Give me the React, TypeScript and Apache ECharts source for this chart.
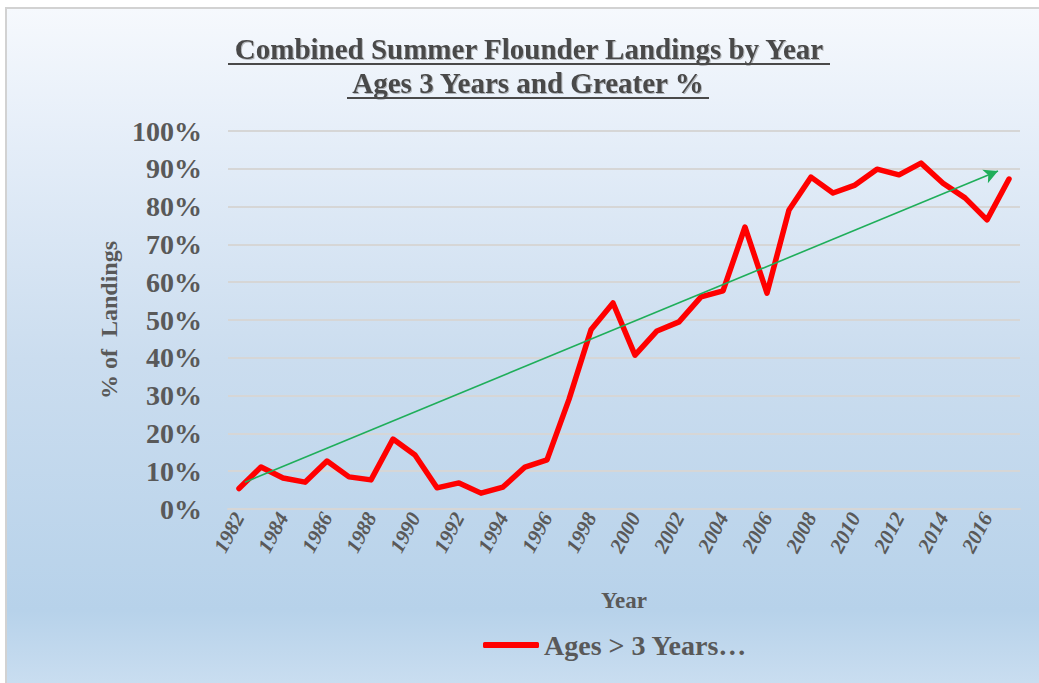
import React, { useEffect, useRef } from "react";
import * as echarts from "echarts";

const years: string[] = [
  "1982", "1983", "1984", "1985", "1986", "1987", "1988", "1989", "1990", "1991",
  "1992", "1993", "1994", "1995", "1996", "1997", "1998", "1999", "2000", "2001",
  "2002", "2003", "2004", "2005", "2006", "2007", "2008", "2009", "2010", "2011",
  "2012", "2013", "2014", "2015", "2016", "2017",
];
const agesPct: number[] = [
  5.4, 11.1, 8.2, 7.1, 12.7, 8.5, 7.7, 18.5, 14.3, 5.6,
  6.9, 4.2, 5.8, 11.1, 13.0, 29.0, 47.4, 54.5, 40.7, 47.1,
  49.5, 56.1, 57.7, 74.6, 57.1, 79.1, 87.8, 83.6, 85.7, 89.9,
  88.4, 91.5, 86.2, 82.3, 76.5, 87.3,
];
// trend arrow end points: [category position, percent]
const trendStart: number[] = [0.27, 7.1];
const trendEnd: number[] = [34.5, 89.4];

const seriesName = "Ages > 3 Years\u2026";
const titleLines: string[] = [
  "Combined Summer Flounder Landings by Year",
  "Ages 3 Years and Greater %",
];

const FONT = "'Liberation Serif', 'Times New Roman', serif";
const TXT = "#595959";

export default function App() {
  const ref = useRef<HTMLDivElement>(null);
  useEffect(() => {
    if (!ref.current) return;
    const chart = echarts.init(ref.current, undefined, { renderer: "svg" });
    chart.setOption({
      animation: false,
      backgroundColor: "#ffffff",
      graphic: [
        {
          type: "rect",
          z: -10,
          silent: true,
          shape: { x: 6, y: 8, width: 1050, height: 700 },
          style: {
            fill: new echarts.graphic.LinearGradient(0, 0, 0, 1, [
              { offset: 0, color: "#f6f9fd" },
              { offset: 0.2, color: "#e4edf8" },
              { offset: 0.5, color: "#cbddef" },
              { offset: 0.86, color: "#b7d2ea" },
              { offset: 1, color: "#cfe1f2" },
            ]),
            stroke: "#d2d2d2",
            lineWidth: 2,
          },
        },
        {
          type: "text",
          x: 529,
          y: 49,
          style: {
            text: titleLines[0],
            font: `bold 29px ${FONT}`,
            fill: "#4a4a4a",
            align: "center",
            verticalAlign: "middle",
            textShadowColor: "rgba(0,0,0,0.25)",
            textShadowOffsetX: 1,
            textShadowOffsetY: 1,
            textShadowBlur: 1,
          },
        },
        {
          type: "line",
          shape: { x1: 228, y1: 64, x2: 830, y2: 64 },
          style: { stroke: "#4a4a4a", lineWidth: 2 },
        },
        {
          type: "text",
          x: 528,
          y: 83,
          style: {
            text: titleLines[1],
            font: `bold 29px ${FONT}`,
            fill: "#4a4a4a",
            align: "center",
            verticalAlign: "middle",
            textShadowColor: "rgba(0,0,0,0.25)",
            textShadowOffsetX: 1,
            textShadowOffsetY: 1,
            textShadowBlur: 1,
          },
        },
        {
          type: "line",
          shape: { x1: 347, y1: 98, x2: 709, y2: 98 },
          style: { stroke: "#4a4a4a", lineWidth: 2 },
        },
      ],
      grid: { left: 228, right: 19, top: 131, bottom: 174, containLabel: false },
      legend: {
        show: true,
        data: [{ name: seriesName, icon: "roundRect" }],
        left: 478,
        top: 626,
        itemWidth: 56,
        itemHeight: 6,
        itemGap: 10,
        itemStyle: { color: "#ff0000", borderWidth: 0 },
        textStyle: { fontFamily: FONT, fontWeight: "bold", fontSize: 28, color: TXT },
      },
      xAxis: [
        {
          type: "category",
          data: years,
          boundaryGap: true,
          name: "Year",
          nameLocation: "middle",
          nameGap: 80,
          nameTextStyle: { fontFamily: FONT, fontWeight: "bold", fontSize: 23, color: TXT },
          axisLine: { show: true, lineStyle: { color: "#d6d6d6", width: 2 } },
          axisTick: { show: false },
          axisLabel: {
            interval: 1,
            rotate: 62,
            margin: 5,
            fontFamily: FONT,
            fontWeight: "bold",
            fontStyle: "italic",
            fontSize: 21,
            color: TXT,
          },
        },
        {
          type: "value",
          show: false,
          min: -0.5,
          max: 35.5,
        },
      ],
      yAxis: {
        type: "value",
        min: 0,
        max: 100,
        interval: 10,
        name: "% of  Landings",
        nameLocation: "middle",
        nameGap: 104,
        nameRotate: 90,
        nameTextStyle: { fontFamily: FONT, fontWeight: "bold", fontSize: 24, color: TXT },
        axisLine: { show: false },
        axisTick: { show: false },
        axisLabel: {
          formatter: "{value}%",
          margin: 26,
          fontFamily: FONT,
          fontWeight: "bold",
          fontSize: 28,
          color: TXT,
        },
        splitLine: { lineStyle: { color: "#d6d6d6", width: 2 } },
      },
      series: [
        {
          name: seriesName,
          type: "line",
          data: agesPct,
          xAxisIndex: 0,
          symbol: "none",
          lineStyle: { color: "#ff0000", width: 5.5, join: "round", cap: "round" },
          itemStyle: { color: "#ff0000" },
          z: 3,
        },
        {
          name: "trend",
          type: "line",
          xAxisIndex: 1,
          data: [trendStart, trendEnd],
          symbol: "none",
          lineStyle: { opacity: 0 },
          silent: true,
          z: 4,
          markLine: {
            silent: true,
            symbol: ["none", "arrow"],
            symbolSize: [11, 14],
            label: { show: false },
            lineStyle: { color: "#1fae5a", width: 1.6, type: "solid" },
            data: [[{ coord: trendStart }, { coord: trendEnd }]],
          },
        },
      ],
    });
    return () => chart.dispose();
  }, []);
  return (
    <div
      ref={ref}
      style={{ position: "absolute", left: 0, top: 0, width: 1039, height: 683 }}
    />
  );
}
